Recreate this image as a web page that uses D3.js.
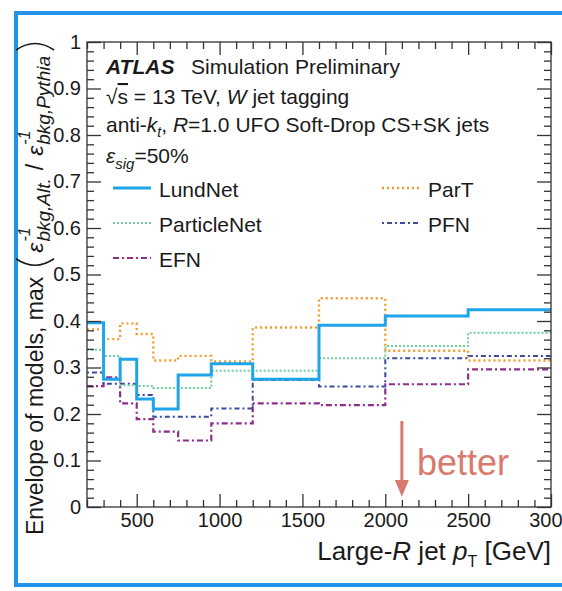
<!DOCTYPE html>
<html>
<head>
<meta charset="utf-8">
<script src="https://cdn.jsdelivr.net/npm/d3@7"></script>
<style>
body { margin: 0; background: #fff; }
svg text { font-family: "Liberation Sans", Arial, sans-serif; fill: #1a1a1a; }
</style>
</head>
<body>
<svg id="chart" width="562" height="591"></svg>
<script>
// bin edges of large-R jet pT (GeV)
const binEdges = [200, 300, 400, 500, 600, 750, 950, 1200, 1600, 2000, 2500, 3000];

// envelope values per bin
const lundNet     = [0.396, 0.275, 0.318, 0.232, 0.211, 0.284, 0.308, 0.275, 0.391, 0.411, 0.424];
const parT        = [0.382, 0.361, 0.395, 0.372, 0.315, 0.325, 0.313, 0.386, 0.449, 0.336, 0.315];
const particleNet = [0.338, 0.325, 0.262, 0.260, 0.256, 0.256, 0.293, 0.293, 0.320, 0.346, 0.375];
const pfn         = [0.289, 0.265, 0.265, 0.241, 0.194, 0.194, 0.212, 0.273, 0.259, 0.320, 0.325];
const efn         = [0.260, 0.279, 0.223, 0.189, 0.162, 0.143, 0.180, 0.223, 0.219, 0.264, 0.296];

const xTicks = [500, 1000, 1500, 2000, 2500, 3000];
const yTicks = [0, 0.1, 0.2, 0.3, 0.4, 0.5, 0.6, 0.7, 0.8, 0.9, 1];

// styles
const series = [
    {name: "LundNet",     values: lundNet,     color: "#1ea5ea", width: 3,   dash: null},
    {name: "ParticleNet", values: particleNet, color: "#6fcf9c", width: 2,   dash: "2,2"},
    {name: "EFN",         values: efn,         color: "#8e2d8e", width: 2.2, dash: "6,3,2,3"},
    {name: "ParT",        values: parT,        color: "#f39a2c", width: 2.4, dash: "2,3"},
    {name: "PFN",         values: pfn,         color: "#3b4a9c", width: 2,   dash: "2,3,5,3"}
];

const svg = d3.select("#chart");

// blue screenshot border
svg.append("rect").attr("x", 16).attr("y", 13).attr("width", 600).attr("height", 572)
    .attr("fill", "none").attr("stroke", "#2393ea").attr("stroke-width", 4);

const pLeft = 87, pRight = 551, pTop = 42, pBottom = 507;
const x = d3.scaleLinear().domain([200, 3000]).range([pLeft, pRight]);
const y = d3.scaleLinear().domain([0, 1]).range([pBottom, pTop]);

svg.append("clipPath").attr("id", "plot").append("rect")
    .attr("x", pLeft).attr("y", pTop).attr("width", pRight - pLeft).attr("height", pBottom - pTop);

//step lines
const line = d3.line().x(d => x(d[0])).y(d => y(d[1])).curve(d3.curveStepAfter);
const drawOrder = ["EFN", "PFN", "ParticleNet", "ParT", "LundNet"];
drawOrder.forEach(n => {
    const s = series.find(d => d.name === n);
    const pts = binEdges.map((e, i) => [e, s.values[Math.min(i, s.values.length - 1)]]);
    svg.append("path").attr("d", line(pts)).attr("clip-path", "url(#plot)")
        .attr("fill", "none").attr("stroke", s.color).attr("stroke-width", s.width)
        .attr("stroke-dasharray", s.dash);
});

//axes, ticks pointing inwards
const fmt = d => (d === 0 || d === 1) ? String(d) : d.toFixed(1);
const xMinor = d3.range(200, 3001, 100).filter(v => v % 500 !== 0);
const yMinor = d3.range(0, 51).filter(i => i % 5 !== 0).map(i => i / 50);

function axis(gen, scale, vals, size, labels, tr) {
    const a = gen(scale).tickValues(vals).tickSize(-size).tickPadding(6);
    if (labels) a.tickFormat(labels); else a.tickFormat("");
    const g = svg.append("g").attr("transform", tr).call(a);
    g.select(".domain").remove();
    g.selectAll("line").attr("stroke", "#333").attr("stroke-width", 1.3);
    g.selectAll("text").style("font-size", "20px").attr("fill", "#1a1a1a");
    return g;
}
axis(d3.axisBottom, x, xTicks, 13, d => d, `translate(0,${pBottom})`);
axis(d3.axisBottom, x, xMinor, 7, null, `translate(0,${pBottom})`);
axis(d3.axisTop, x, xTicks, 13, null, `translate(0,${pTop})`);
axis(d3.axisTop, x, xMinor, 7, null, `translate(0,${pTop})`);
axis(d3.axisLeft, y, yTicks, 14, fmt, `translate(${pLeft},0)`);
axis(d3.axisLeft, y, yMinor, 7, null, `translate(${pLeft},0)`);
axis(d3.axisRight, y, yTicks, 14, null, `translate(${pRight},0)`);
axis(d3.axisRight, y, yMinor, 7, null, `translate(${pRight},0)`);

svg.append("rect").attr("x", pLeft).attr("y", pTop).attr("width", pRight - pLeft).attr("height", pBottom - pTop)
    .attr("fill", "none").attr("stroke", "#333").attr("stroke-width", 1.3);

//x title
const xt = svg.append("text").attr("x", pRight).attr("y", 560).attr("text-anchor", "end").style("font-size", "26px");
xt.append("tspan").text("Large-");
xt.append("tspan").style("font-style", "italic").text("R");
xt.append("tspan").text(" jet ");
xt.append("tspan").style("font-style", "italic").text("p");
xt.append("tspan").attr("dy", 7).style("font-size", "16px").text("T");
xt.append("tspan").attr("dy", -7).text(" [GeV]");

//y title, built piece by piece then rotated
const yt = svg.append("g");
let cursor = 0;
function piece(txt, size, dy, italic, advance = true) {
    const t = yt.append("text").attr("x", cursor).attr("y", dy).style("font-size", size + "px").text(txt);
    if (italic) t.style("font-style", "italic");
    const w = t.node().getComputedTextLength();
    if (advance) cursor += w;
    return w;
}
function eps(sub) {
    piece("ε", 23, 0, true);
    cursor += 1;
    const start = cursor;
    const w1 = piece("-1", 16, -13, true, false);
    const w2 = piece(sub, 19, 7, true, false);
    cursor = start + Math.max(w1, w2);
}
function paren(open) {
    const x0 = cursor;
    const d = open ? `M${x0 + 10},-27 Q${x0 - 3},-8 ${x0 + 10},11` : `M${x0},-27 Q${x0 + 13},-8 ${x0},11`;
    yt.append("path").attr("d", d).attr("fill", "none").attr("stroke", "#1a1a1a").attr("stroke-width", 1.6);
    cursor += 10;
}
piece("Envelope of models, max", 23, 0, false);
cursor += 8;
paren(true);
cursor += 6;
eps("bkg,Alt.");
cursor += 8;
piece("/", 23, 0, false);
cursor += 8;
eps("bkg,Pythia");
cursor += 6;
paren(false);
yt.attr("transform", `translate(43,${40 + cursor}) rotate(-90)`);

//header texts
const hx = 106;
svg.append("text").attr("x", hx).attr("y", 74).style("font-size", "21px")
    .style("font-weight", "bold").style("font-style", "italic").text("ATLAS");
svg.append("text").attr("x", 191).attr("y", 74).style("font-size", "21px").text("Simulation Preliminary");

const l2 = svg.append("text").attr("x", hx).attr("y", 104).style("font-size", "21px");
l2.append("tspan").text("√");
l2.append("tspan").style("text-decoration", "overline").text("s");
l2.append("tspan").text(" = 13 TeV, ");
l2.append("tspan").style("font-style", "italic").text("W");
l2.append("tspan").text(" jet tagging");

const l3 = svg.append("text").attr("x", hx).attr("y", 132).style("font-size", "21px");
l3.append("tspan").text("anti-");
l3.append("tspan").style("font-style", "italic").text("k");
l3.append("tspan").attr("dy", 5).style("font-size", "14px").style("font-style", "italic").text("t");
l3.append("tspan").attr("dy", -5).text(", ");
l3.append("tspan").style("font-style", "italic").text("R");
l3.append("tspan").text("=1.0 UFO Soft-Drop CS+SK jets");

const l4 = svg.append("text").attr("x", hx).attr("y", 163).style("font-size", "21px");
l4.append("tspan").style("font-style", "italic").text("ε");
l4.append("tspan").attr("dy", 6).style("font-size", "15px").style("font-style", "italic").text("sig");
l4.append("tspan").attr("dy", -6).text("=50%");

//legend
const legendPos = {
    "LundNet": [113, 188], "ParticleNet": [113, 223], "EFN": [113, 258],
    "ParT": [382, 188], "PFN": [382, 223]
};
series.forEach(s => {
    const [lx, ly] = legendPos[s.name];
    svg.append("line").attr("x1", lx).attr("x2", lx + 38).attr("y1", ly).attr("y2", ly)
        .attr("stroke", s.color).attr("stroke-width", s.width).attr("stroke-dasharray", s.dash);
    svg.append("text").attr("x", lx + 46).attr("y", ly + 9).style("font-size", "21px").text(s.name);
});

//better arrow
const ac = "#d97a6e";
const ax = x(2100);
svg.append("line").attr("x1", ax).attr("x2", ax).attr("y1", y(0.185)).attr("y2", y(0.05))
    .attr("stroke", ac).attr("stroke-width", 3);
svg.append("path").attr("d", `M${ax - 7},${y(0.058)} L${ax + 7},${y(0.058)} L${ax},${y(0.022)} Z`).attr("fill", ac);
svg.append("text").attr("x", 417).attr("y", 475).style("font-size", "36px").style("fill", ac).text("better");
</script>
</body>
</html>
